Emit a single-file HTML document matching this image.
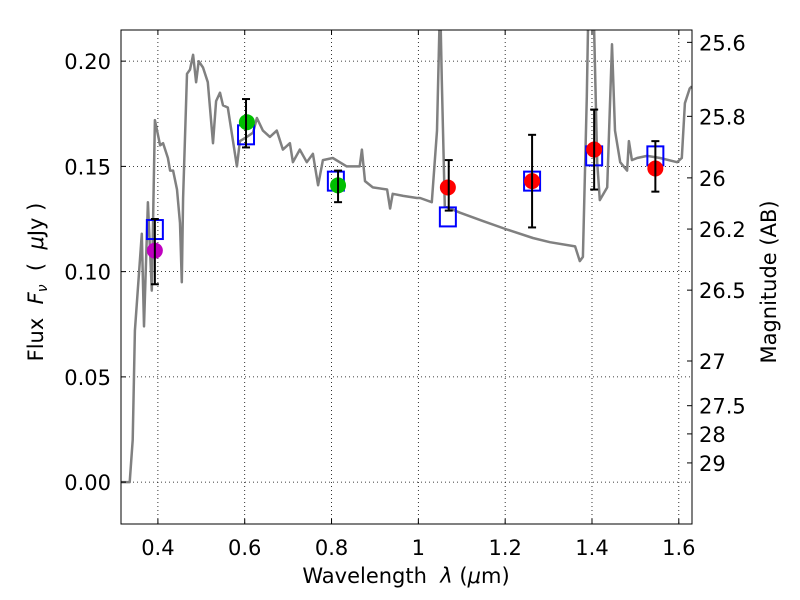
<!DOCTYPE html>
<html><head><meta charset="utf-8"><style>
body{margin:0;background:#fff;}
svg{display:block;font-family:"DejaVu Sans","Liberation Sans",sans-serif;}
text{white-space:pre;}
</style></head><body>
<svg id="chart" width="800" height="600" viewBox="0 0 800 600" xmlns="http://www.w3.org/2000/svg"></svg>
<script>
const specLam=[0.315,0.335,0.342,0.347,0.363,0.368,0.377,0.386,0.393,0.405,0.412,0.423,0.428,0.435,0.444,0.451,0.455,0.458,0.467,0.474,0.481,0.488,0.494,0.504,0.515,0.527,0.534,0.543,0.550,0.561,0.573,0.582,0.589,0.605,0.619,0.628,0.642,0.658,0.674,0.688,0.704,0.711,0.727,0.743,0.757,0.769,0.780,0.803,0.835,0.865,0.870,0.877,0.895,0.928,0.935,0.941,0.965,0.997,1.004,1.031,1.043,1.050,1.054,1.061,1.096,1.149,1.204,1.264,1.303,1.361,1.372,1.379,1.388,1.393,1.402,1.412,1.418,1.435,1.446,1.453,1.465,1.481,1.485,1.492,1.504,1.527,1.557,1.596,1.607,1.614,1.625,1.630];
const specFlux=[0,0,0.020,0.072,0.118,0.074,0.133,0.091,0.172,0.160,0.161,0.154,0.148,0.148,0.139,0.123,0.095,0.135,0.194,0.196,0.203,0.190,0.200,0.197,0.190,0.161,0.181,0.185,0.179,0.178,0.162,0.150,0.162,0.164,0.166,0.173,0.167,0.164,0.167,0.158,0.161,0.152,0.158,0.152,0.156,0.141,0.153,0.154,0.150,0.150,0.158,0.143,0.140,0.139,0.130,0.137,0.136,0.135,0.135,0.133,0.167,0.230,0.191,0.131,0.128,0.124,0.120,0.116,0.114,0.112,0.105,0.107,0.183,0.240,0.240,0.152,0.134,0.140,0.208,0.167,0.152,0.148,0.162,0.153,0.154,0.155,0.154,0.152,0.154,0.180,0.187,0.188];
const boxLam=[0.393,0.603,0.810,1.068,1.262,1.405,1.546];
const boxFlux=[0.120,0.165,0.143,0.126,0.143,0.155,0.155];
const ptLam=[0.393,0.605,0.815,1.068,1.262,1.405,1.546];
const ptFlux=[0.110,0.171,0.141,0.140,0.143,0.158,0.149];
const ptColor=["#bf00bf","#00bf00","#00bf00","#ff0000","#ff0000","#ff0000","#ff0000"];
const errLam=[0.393,0.603,0.815,1.070,1.262,1.405,1.546];
const errLo=[0.094,0.159,0.133,0.129,0.121,0.139,0.138];
const errHi=[0.125,0.182,0.148,0.153,0.165,0.177,0.162];
const xTicks=[0.4,0.6,0.8,1.0,1.2,1.4,1.6];
const xTickLabels=["0.4","0.6","0.8","1","1.2","1.4","1.6"];
const yTicks=[0,0.05,0.10,0.15,0.20];
const yTickLabels=["0.00","0.05","0.10","0.15","0.20"];
const magTicks=[25.6,25.8,26,26.2,26.5,27,27.5,28,29];
const magLabels=["25.6","25.8","26","26.2","26.5","27","27.5","28","29"];

const L=121,R=692,T=30,B=524;
const xMin=0.315,xMax=1.6304,yMin=-0.0199,yMax=0.2148;
const X=v=>L+(v-xMin)/(xMax-xMin)*(R-L);
const Y=v=>B-(v-yMin)/(yMax-yMin)*(B-T);
const NS="http://www.w3.org/2000/svg";
const svg=document.getElementById('chart');
function mk(tag,attrs,parent){const e=document.createElementNS(NS,tag);for(const k in attrs)e.setAttribute(k,attrs[k]);(parent||svg).appendChild(e);return e;}

const defs=mk('defs',{});
const cp=mk('clipPath',{id:'clip'},defs);
mk('rect',{x:L,y:T,width:R-L,height:B-T},cp);

xTicks.forEach(v=>{const g=mk('line',{x1:X(v),x2:X(v),y1:T,y2:B,stroke:'#000','stroke-width':0.8,'stroke-dasharray':'1,3'});

});
yTicks.forEach(v=>{const g=mk('line',{x1:L,x2:R,y1:Y(v),y2:Y(v),stroke:'#000','stroke-width':0.8,'stroke-dasharray':'1,3'});

});

const plot=mk('g',{'clip-path':'url(#clip)'});


const d=specLam.map((l,i)=>(i?'L':'M')+X(l).toFixed(1)+','+Y(specFlux[i]).toFixed(1)).join('');
const sp=mk('path',{d:d,fill:'none',stroke:'#808080','stroke-width':2.5,'stroke-linejoin':'round'},plot);



boxLam.forEach((l,i)=>{const r=mk('rect',{x:X(l)-8,y:Y(boxFlux[i])-9.5,width:16,height:19,fill:'none',stroke:'#0000ff','stroke-width':2},plot);

});
ptLam.forEach((l,i)=>{const c=mk('circle',{cx:X(l),cy:Y(ptFlux[i]),r:8,fill:ptColor[i]},plot);

});
errLam.forEach((l,i)=>{const g=mk('g',{stroke:'#000','stroke-width':2},plot);


const x=X(l);mk('line',{x1:x,x2:x,y1:Y(errLo[i]),y2:Y(errHi[i])},g);
mk('line',{x1:x-4,x2:x+4,y1:Y(errLo[i]),y2:Y(errLo[i])},g);
mk('line',{x1:x-4,x2:x+4,y1:Y(errHi[i]),y2:Y(errHi[i])},g);});

const fr=mk('rect',{x:L,y:T,width:R-L,height:B-T,fill:'none',stroke:'#000','stroke-width':1});



xTicks.forEach((v,i)=>{const x=X(v);
mk('line',{x1:x,x2:x,y1:B,y2:B-5,stroke:'#000'});mk('line',{x1:x,x2:x,y1:T,y2:T+5,stroke:'#000'});
const t=mk('text',{x:x,y:B+31,'font-size':21,'text-anchor':'middle'});t.textContent=xTickLabels[i];

});
yTicks.forEach((v,i)=>{const y=Y(v);
mk('line',{x1:L,x2:L+5,y1:y,y2:y,stroke:'#000'});
const t=mk('text',{x:L-10,y:y+8,'font-size':21,'text-anchor':'end'});t.textContent=yTickLabels[i];

});
magTicks.forEach((m,i)=>{const y=Y(Math.pow(10,(23.9-m)/2.5));
mk('line',{x1:R,x2:R-5,y1:y,y2:y,stroke:'#000'});
const t=mk('text',{x:R+7,y:y+8,'font-size':21,'text-anchor':'start'});t.textContent=magLabels[i];

});

const xt=mk('text',{x:406,y:583,'font-size':21,'text-anchor':'middle'});
xt.innerHTML='Wavelength  <tspan font-style="italic">λ</tspan> (<tspan font-style="italic">μ</tspan>m)';


const yt=mk('text',{x:0,y:0,'font-size':21,'text-anchor':'middle',transform:'translate(43,282) rotate(-90)'});
yt.innerHTML='Flux  <tspan font-style="italic">F</tspan><tspan font-style="italic" font-size="14" dy="4">ν</tspan><tspan dy="-4">  (  </tspan><tspan font-style="italic">μ</tspan>Jy )';


const rt=mk('text',{x:0,y:0,'font-size':21,'text-anchor':'middle',transform:'translate(776,282) rotate(-90)'});
rt.textContent='Magnitude (AB)';


</script>
</body></html>
